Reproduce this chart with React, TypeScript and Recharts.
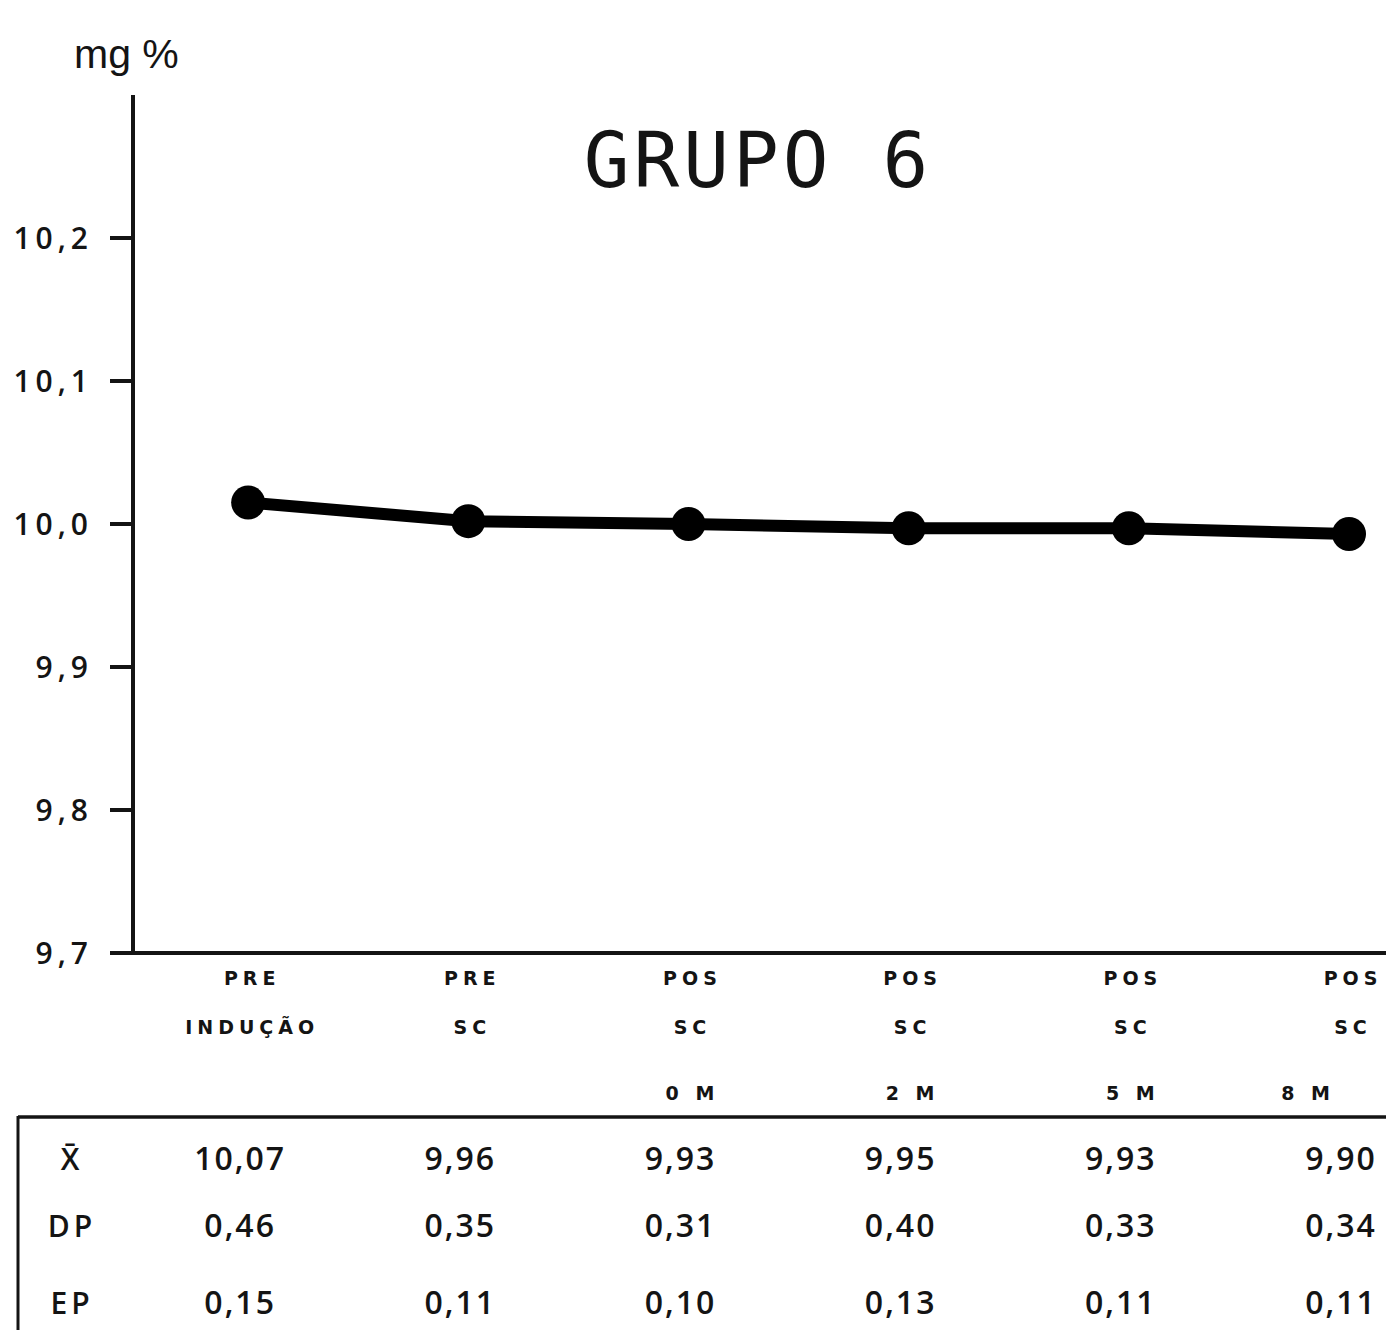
import React from 'react';
import { LineChart, Line, XAxis, YAxis } from 'recharts';

// x categories (one entry per line of the label under the axis)
const categoryLines = [
  ['PRE', 'INDUÇÃO'],
  ['PRE', 'SC'],
  ['POS', 'SC', '0 M'],
  ['POS', 'SC', '2 M'],
  ['POS', 'SC', '5 M'],
  ['POS', 'SC', '8 M'],
];

// plotted values (mg %)
const values = [10.015, 10.002, 10.0, 9.997, 9.997, 9.993];

const yTicks = [9.7, 9.8, 9.9, 10.0, 10.1, 10.2];

// table under the chart
const rowLabels = ['X\u0304', 'DP', 'EP'];
const meanRow = ['10,07', '9,96', '9,93', '9,95', '9,93', '9,90'];
const dpRow = ['0,46', '0,35', '0,31', '0,40', '0,33', '0,34'];
const epRow = ['0,15', '0,11', '0,10', '0,13', '0,11', '0,11'];
const tableRows = [meanRow, dpRow, epRow];

const data = values.map((v, i) => ({ idx: i, value: v }));

const W = 1386;
const H = 1330;
const INK = '#141414';

const CategoryTick = ({ x, y, payload }: any) => {
  const i = payload.value;
  const lines = categoryLines[i] || [];
  const lineY = [32, 81, 147];
  const rowY = [217, 284, 361];
  return (
    <g>
      {lines.map((t, k) => (
        <text
          key={'c' + k}
          x={x + 4 - (i === 5 && k === 2 ? 45 : 0)}
          y={y + lineY[k]}
          textAnchor="middle"
          fontFamily="DejaVu Sans"
          fontWeight="bold"
          fontSize={19}
          letterSpacing={5}
          fill={INK}
        >
          {t}
        </text>
      ))}
      {tableRows.map((row, k) => (
        <text
          key={'r' + k}
          x={x - 8}
          y={y + rowY[k]}
          textAnchor="middle"
          fontFamily="Open Sans"
          fontWeight={600}
          fontSize={32}
          letterSpacing={2}
          fill={INK}
        >
          {row[i]}
        </text>
      ))}
    </g>
  );
};

const ValueTick = ({ x, y, payload }: any) => (
  <text
    x={x}
    y={y}
    dy="0.36em"
    textAnchor="end"
    fontFamily="Open Sans"
    fontWeight={600}
    fontSize={30}
    letterSpacing={5}
    fill={INK}
  >
    {Number(payload.value).toFixed(1).replace('.', ',')}
  </text>
);

export default function App() {
  return (
    <div style={{ position: 'absolute', left: 0, top: 0, width: W, height: H, background: '#fff', overflow: 'hidden' }}>
      <LineChart width={W} height={H} data={data} margin={{ top: 95, right: 0, bottom: 0, left: 0 }}>
        <XAxis
          dataKey="idx"
          type="number"
          domain={[-0.523, 5.168]}
          allowDataOverflow
          ticks={[0, 1, 2, 3, 4, 5]}
          height={377}
          tickLine={false}
          tickSize={0}
          tickMargin={0}
          axisLine={{ stroke: INK, strokeWidth: 4 }}
          tick={<CategoryTick />}
        />
        <YAxis
          type="number"
          domain={[9.7, 10.3]}
          ticks={yTicks}
          width={133}
          tickSize={23}
          tickMargin={17}
          axisLine={{ stroke: INK, strokeWidth: 4 }}
          tickLine={{ stroke: INK, strokeWidth: 4 }}
          tick={<ValueTick />}
        />
        <Line
          dataKey="value"
          stroke="#000"
          strokeWidth={12}
          dot={{ r: 17, fill: '#000', stroke: '#000', strokeWidth: 0 }}
          activeDot={false}
          isAnimationActive={false}
        />
      </LineChart>
      <svg width={W} height={H} style={{ position: 'absolute', left: 0, top: 0, pointerEvents: 'none' }}>
        <text x={758} y={187} textAnchor="middle" fontFamily="DejaVu Sans Mono" fontSize={76} letterSpacing={4} fill={INK}>
          GRUPO 6
        </text>
        <text x={74} y={68} fontFamily="Liberation Sans" fontSize={41} fill={INK}>
          mg %
        </text>
        <line x1={18} y1={1117} x2={W} y2={1117} stroke={INK} strokeWidth={3.5} />
        <line x1={18} y1={1116} x2={18} y2={H} stroke={INK} strokeWidth={3} />
        {rowLabels.map((t, k) => (
          <text
            key={t}
            x={72}
            y={[1170, 1237, 1314][k]}
            textAnchor="middle"
            fontFamily="Open Sans"
            fontWeight={600}
            fontSize={30}
            letterSpacing={4}
            fill={INK}
          >
            {t}
          </text>
        ))}
      </svg>
    </div>
  );
}
